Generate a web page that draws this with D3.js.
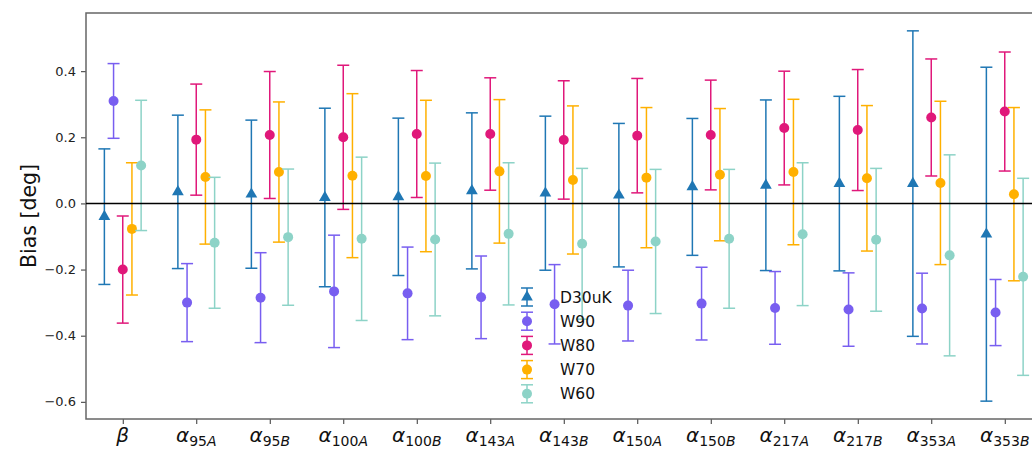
<!DOCTYPE html>
<html lang="en">
<head>
<meta charset="UTF-8">
<title>Bias per parameter</title>
<script src="https://d3js.org/d3.v7.min.js"></script>
<style>
  body { margin: 0; background: #fff; font-family: "DejaVu Sans", sans-serif; }
  svg { display: block; }
  .tick text { font-family: "DejaVu Sans", sans-serif; fill: #222; }
</style>
</head>
<body>
<svg id="chart" width="1032" height="450"></svg>
<script>
// parameter labels: [base symbol, subscript number, subscript letter]
const params = [
  ['β', '', ''], ['α', '95', 'A'], ['α', '95', 'B'], ['α', '100', 'A'], ['α', '100', 'B'],
  ['α', '143', 'A'], ['α', '143', 'B'], ['α', '150', 'A'], ['α', '150', 'B'],
  ['α', '217', 'A'], ['α', '217', 'B'], ['α', '353', 'A'], ['α', '353', 'B']
];

const seriesNames = ['D30uK', 'W90', 'W80', 'W70', 'W60'];
const seriesColors = ['#1f77b4', '#785ef0', '#e0187a', '#ffb000', '#8dd3c7'];

// bias (deg) and 1-sigma error per parameter
const d30Bias = [-0.040, 0.035, 0.028, 0.018, 0.020, 0.038, 0.031, 0.025, 0.050, 0.055, 0.060, 0.060, -0.093];
const d30Err  = [0.205, 0.232, 0.224, 0.270, 0.238, 0.236, 0.233, 0.217, 0.207, 0.258, 0.264, 0.462, 0.505];
const w90Bias = [0.310, -0.300, -0.285, -0.266, -0.272, -0.284, -0.305, -0.309, -0.303, -0.316, -0.321, -0.318, -0.330];
const w90Err  = [0.113, 0.118, 0.136, 0.170, 0.140, 0.125, 0.120, 0.107, 0.110, 0.110, 0.111, 0.107, 0.100];
const w80Bias = [-0.200, 0.193, 0.207, 0.200, 0.210, 0.210, 0.192, 0.205, 0.207, 0.228, 0.222, 0.260, 0.278];
const w80Err  = [0.162, 0.168, 0.192, 0.218, 0.192, 0.170, 0.179, 0.173, 0.166, 0.172, 0.183, 0.177, 0.180];
const w70Bias = [-0.077, 0.080, 0.095, 0.084, 0.083, 0.097, 0.071, 0.078, 0.087, 0.095, 0.076, 0.062, 0.028];
const w70Err  = [0.200, 0.203, 0.212, 0.248, 0.229, 0.217, 0.224, 0.212, 0.200, 0.220, 0.220, 0.247, 0.262];
const w60Bias = [0.115, -0.119, -0.102, -0.107, -0.109, -0.092, -0.122, -0.115, -0.107, -0.093, -0.110, -0.157, -0.222];
const w60Err  = [0.197, 0.198, 0.206, 0.247, 0.231, 0.215, 0.228, 0.218, 0.210, 0.216, 0.216, 0.304, 0.298];

const yTicks = [-0.6, -0.4, -0.2, 0.0, 0.2, 0.4];

const series = [
  { name: seriesNames[0], bias: d30Bias, err: d30Err, marker: 'tri' },
  { name: seriesNames[1], bias: w90Bias, err: w90Err, marker: 'dot' },
  { name: seriesNames[2], bias: w80Bias, err: w80Err, marker: 'dot' },
  { name: seriesNames[3], bias: w70Bias, err: w70Err, marker: 'dot' },
  { name: seriesNames[4], bias: w60Bias, err: w60Err, marker: 'dot' }
];
const offsets = [-0.25, -0.125, 0, 0.125, 0.25];

const margin = { left: 86, top: 13, bottom: 419 };
const svg = d3.select('#chart');

const x = d3.scaleLinear().domain([-0.5, 12.5]).range([margin.left, margin.left + 13 * 73.5]);
const y = d3.scaleLinear().domain([-0.652, 0.576]).range([margin.bottom, margin.top]);

// axes
const yAxis = d3.axisLeft(y).tickValues(yTicks).tickFormat(d3.format('.1f')).tickSize(5).tickPadding(5);
const gy = svg.append('g').attr('transform', `translate(${margin.left},0)`).call(yAxis);
gy.select('.domain').remove();
gy.selectAll('.tick line').attr('stroke', '#333').attr('stroke-width', 1);
gy.selectAll('.tick text').attr('font-size', 13);

const xAxis = d3.axisBottom(x).tickValues(d3.range(params.length)).tickFormat('').tickSize(5);
const gx = svg.append('g').attr('transform', `translate(0,${margin.bottom})`).call(xAxis);
gx.select('.domain').remove();
gx.selectAll('.tick line').attr('stroke', '#333').attr('stroke-width', 1);

// x tick labels with subscripts
params.forEach((p, i) => {
  const t = svg.append('text')
    .attr('x', x(i))
    .attr('y', 442)
    .attr('text-anchor', 'middle')
    .attr('font-family', 'DejaVu Sans, sans-serif')
    .attr('fill', '#111');
  t.append('tspan').attr('font-size', 20).attr('font-style', 'italic').text(p[0]);
  if (p[1]) {
    t.append('tspan').attr('font-size', 14).attr('dy', 3.5).text(p[1]);
    t.append('tspan').attr('font-size', 14).attr('font-style', 'italic').text(p[2]);
  }
});

// frame
svg.append('rect')
  .attr('x', margin.left).attr('y', margin.top)
  .attr('width', x.range()[1] - margin.left).attr('height', margin.bottom - margin.top)
  .attr('fill', 'none').attr('stroke', '#666').attr('stroke-width', 1.5);

// y label
svg.append('text')
  .attr('transform', `translate(36,${(margin.top + margin.bottom) / 2}) rotate(-90)`)
  .attr('text-anchor', 'middle')
  .attr('font-size', 20.5)
  .attr('fill', '#111')
  .text('Bias [deg]');

const tri = d3.symbol().type(d3.symbolTriangle).size(60);
const cap = 6;

function drawMarker(g, kind, color, cx, cy) {
  if (kind === 'tri') {
    g.append('path').attr('d', tri).attr('transform', `translate(${cx},${cy})`).attr('fill', color);
  } else {
    g.append('circle').attr('cx', cx).attr('cy', cy).attr('r', 5).attr('fill', color);
  }
}

// error bars
series.forEach((s, si) => {
  const color = seriesColors[si];
  const g = svg.append('g').attr('class', 'series');
  s.bias.forEach((b, i) => {
    const cx = x(i + offsets[si]);
    const y1 = y(b + s.err[i]);
    const y0 = y(b - s.err[i]);
    g.append('line').attr('x1', cx).attr('x2', cx).attr('y1', y1).attr('y2', y0)
      .attr('stroke', color).attr('stroke-width', 1.5);
    [y1, y0].forEach(yy => g.append('line')
      .attr('x1', cx - cap).attr('x2', cx + cap).attr('y1', yy).attr('y2', yy)
      .attr('stroke', color).attr('stroke-width', 1.5));
    drawMarker(g, s.marker, color, cx, y(b));
  });
});

// zero line
svg.append('line')
  .attr('x1', margin.left).attr('x2', x.range()[1])
  .attr('y1', y(0)).attr('y2', y(0))
  .attr('stroke', '#000').attr('stroke-width', 1.6);

// legend
const legend = svg.append('g').attr('transform', 'translate(527,297)');
series.forEach((s, si) => {
  const color = seriesColors[si];
  const g = legend.append('g').attr('transform', `translate(0,${si * 24.2})`);
  g.append('line').attr('x1', 0).attr('x2', 0).attr('y1', -9).attr('y2', 9)
    .attr('stroke', color).attr('stroke-width', 1.5);
  [-9, 9].forEach(yy => g.append('line')
    .attr('x1', -cap).attr('x2', cap).attr('y1', yy).attr('y2', yy)
    .attr('stroke', color).attr('stroke-width', 1.5));
  drawMarker(g, s.marker, color, 0, 0);
  g.append('text').attr('x', 33).attr('y', 5.5)
    .attr('font-size', 15.5).attr('fill', '#111').text(s.name);
});
</script>
</body>
</html>
